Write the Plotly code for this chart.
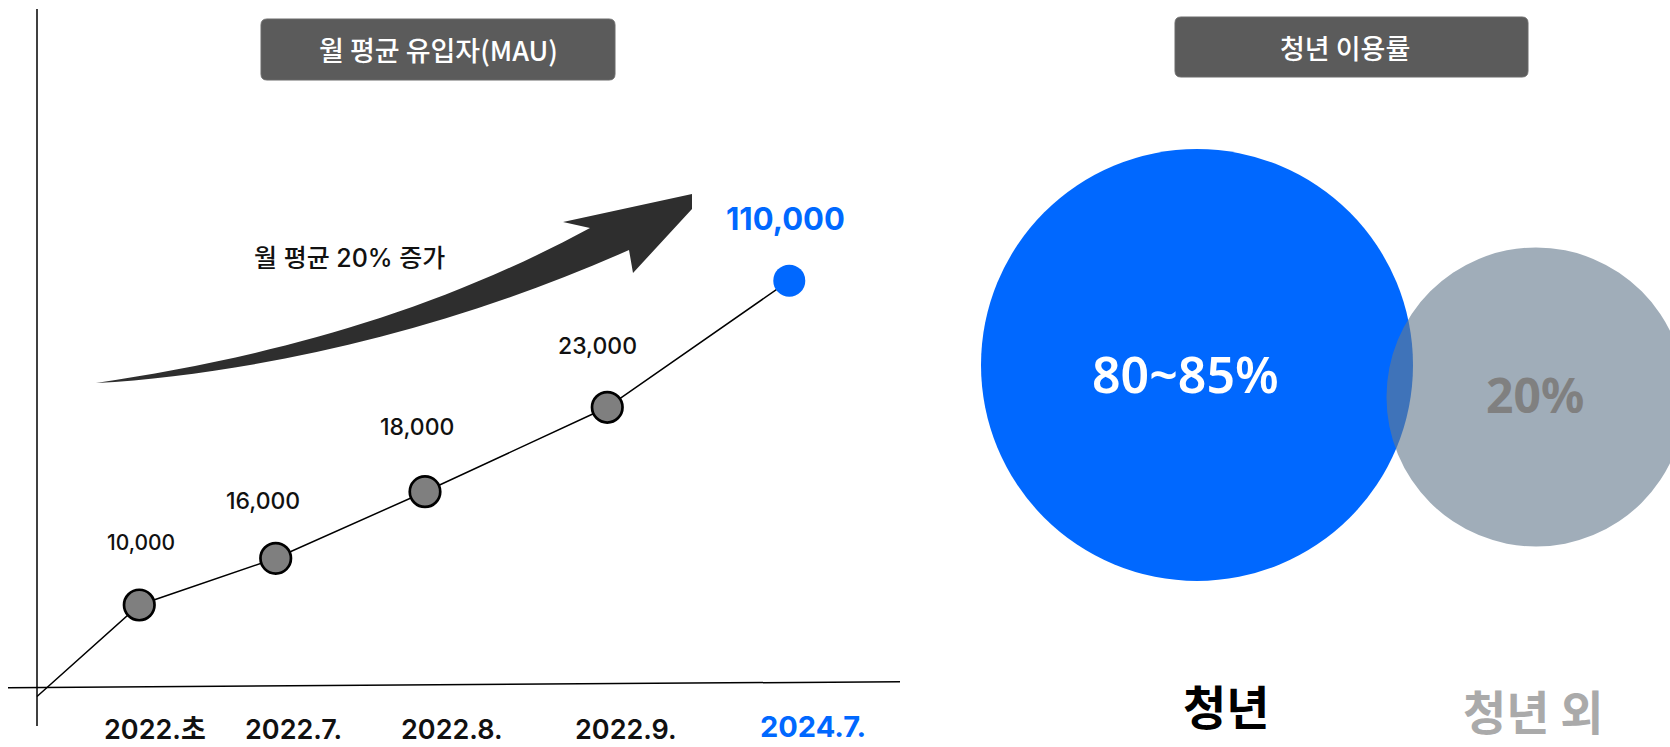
import plotly.graph_objects as go

# ---------------- data ----------------
periods = ["2022.초", "2022.7.", "2022.8.", "2022.9.", "2024.7."]
mau = [10000, 16000, 18000, 23000, 110000]
# the infographic is not drawn to scale: where each point sits on its timeline / height axes
timeline_pos = [11.85, 27.66, 44.96, 66.08, 87.17]
drawn_level = [13.67, 21.45, 32.55, 46.62, 67.72]
line_origin = [0.0, -1.58]

left_title = "월 평균 유입자(MAU)"
growth_note = "월 평균 20% 증가"
right_title = "청년 이용률"
user_groups = ["청년", "청년 외"]
user_share = ["80~85%", "20%"]

# ---------------- style ----------------
W, H = 1670, 747
FONT = "Inter, Noto Sans CJK KR, sans-serif"
NFONT = "Noto Sans, Noto Sans CJK KR, sans-serif"
KFONT = "Noto Sans CJK KR, sans-serif"
BLUE = "#0068ff"
DARK = "#111111"

value_label_size = [21, 23, 23, 23, 31]
value_label_dx = [2, -13, -8, -10, -4]
value_label_dy = [62, 57, 65, 61, 62]
period_label_dx = [16, 18, 27, 19, 24]


def X(px):
    return px / W


def Y(py):
    return 1 - py / H


def rounded_rect(x0, y0, x1, y1, r):
    pts = [
        f"M {X(x0 + r)},{Y(y0)}",
        f"L {X(x1 - r)},{Y(y0)}",
        f"Q {X(x1)},{Y(y0)} {X(x1)},{Y(y0 + r)}",
        f"L {X(x1)},{Y(y1 - r)}",
        f"Q {X(x1)},{Y(y1)} {X(x1 - r)},{Y(y1)}",
        f"L {X(x0 + r)},{Y(y1)}",
        f"Q {X(x0)},{Y(y1)} {X(x0)},{Y(y1 - r)}",
        f"L {X(x0)},{Y(y0 + r)}",
        f"Q {X(x0)},{Y(y0)} {X(x0 + r)},{Y(y0)}",
        "Z",
    ]
    return " ".join(pts)


def path_px(cmds):
    out = []
    for c in cmds:
        if isinstance(c, str):
            out.append(c)
        else:
            out.append(f"{X(c[0])},{Y(c[1])}")
    return " ".join(out)


def label(x, y, text, size, color, weight, family=FONT, xref="paper", yref="paper", **kw):
    return dict(x=x, y=y, xref=xref, yref=yref, text=text, showarrow=False,
                xanchor="center", yanchor="middle",
                font=dict(family=family, size=size, color=color, weight=weight), **kw)


fig = go.Figure()

# line
fig.add_trace(go.Scatter(
    x=[line_origin[0]] + timeline_pos,
    y=[line_origin[1]] + drawn_level,
    mode="lines",
    line=dict(color="#000000", width=1.5),
    hoverinfo="skip",
    cliponaxis=False,
))

n = len(mau)
marker_colors = ["#7f7f7f"] * (n - 1) + [BLUE]
marker_lw = [2.7] * (n - 1) + [0]
marker_sz = [30.5] * (n - 1) + [32]
fig.add_trace(go.Scatter(
    x=timeline_pos,
    y=drawn_level,
    mode="markers",
    marker=dict(color=marker_colors, size=marker_sz, opacity=1,
                line=dict(color="#000000", width=marker_lw)),
    customdata=mau,
    hovertemplate="%{customdata:,}<extra></extra>",
    cliponaxis=False,
))

annotations = []
for i, v in enumerate(mau):
    last = i == n - 1
    annotations.append(label(
        timeline_pos[i], drawn_level[i], f"{v:,}", value_label_size[i],
        BLUE if last else DARK, 700 if last else 500,
        xref="x", yref="y", xshift=value_label_dx[i], yshift=value_label_dy[i]))
    annotations.append(label(
        timeline_pos[i], Y(726 if last else 729), periods[i],
        29 if last else 27, BLUE if last else DARK, 700 if last else 600,
        xref="x", yref="paper", xshift=period_label_dx[i]))

annotations += [
    label(X(349), Y(258), growth_note, 25, DARK, 500),
    label(X(438), Y(49), left_title, 27, "#ffffff", 500, family=KFONT),
    label(X(1345), Y(47), right_title, 27, "#ffffff", 500, family=KFONT),
    label(X(1185), Y(374), user_share[0], 50, "#ffffff", 600, family=NFONT),
    label(X(1535), Y(394), user_share[1], 48, "#808080", 700, family=NFONT),
    label(X(1226), Y(704), user_groups[0], 47, "#000000", 700, family=KFONT),
    label(X(1533), Y(709), user_groups[1], 47, "#aaaaaa", 700, family=KFONT),
]

arrow = path_px([
    "M", (96, 383),
    "C", (250, 360), (420, 320), (590, 228),
    "L", (563, 222),
    "L", (692, 194),
    "L", (692, 209),
    "L", (633, 273),
    "L", (629, 250),
    "C", (450, 330), (250, 375), (96, 383),
    "Z",
])

shapes = [
    dict(type="line", xref="paper", yref="paper", x0=X(37), y0=Y(9), x1=X(37), y1=Y(726),
         line=dict(color="#000000", width=1.5), layer="below"),
    dict(type="line", xref="paper", yref="paper", x0=X(8), y0=Y(687.7), x1=X(900), y1=Y(681.7),
         line=dict(color="#000000", width=1.5), layer="below"),
    dict(type="path", xref="paper", yref="paper", path=arrow,
         fillcolor="#2e2e2e", line=dict(width=0), layer="below"),
    dict(type="path", xref="paper", yref="paper", path=rounded_rect(261, 19, 615, 80, 6),
         fillcolor="#5b5b5b", line=dict(color="#6a6a6a", width=1), layer="below"),
    dict(type="path", xref="paper", yref="paper", path=rounded_rect(1175, 17, 1528, 77, 6),
         fillcolor="#5b5b5b", line=dict(color="#6a6a6a", width=1), layer="below"),
    dict(type="circle", xref="paper", yref="paper",
         x0=X(1197 - 216), x1=X(1197 + 216), y0=Y(365 + 216), y1=Y(365 - 216),
         fillcolor=BLUE, line=dict(width=0), layer="below"),
    dict(type="circle", xref="paper", yref="paper",
         x0=X(1536 - 149.5), x1=X(1536 + 149.5), y0=Y(397 + 149.5), y1=Y(397 - 149.5),
         fillcolor="rgba(102,122,142,0.62)", line=dict(width=0), layer="below"),
]

fig.update_layout(
    width=W, height=H,
    margin=dict(l=0, r=0, t=0, b=0),
    paper_bgcolor="#ffffff", plot_bgcolor="rgba(0,0,0,0)",
    showlegend=False,
    xaxis=dict(domain=[0, 900 / W], range=[-37 / 8.63, (900 - 37) / 8.63],
               visible=False, fixedrange=True),
    yaxis=dict(domain=[0, 1 - 87 / H], range=[-10, 100], visible=False, fixedrange=True),
    shapes=shapes,
    annotations=annotations,
)

fig.write_html(
    "out.html",
    config={"displayModeBar": False},
    post_script="document.body.style.margin='0';document.body.style.overflow='hidden';",
)
